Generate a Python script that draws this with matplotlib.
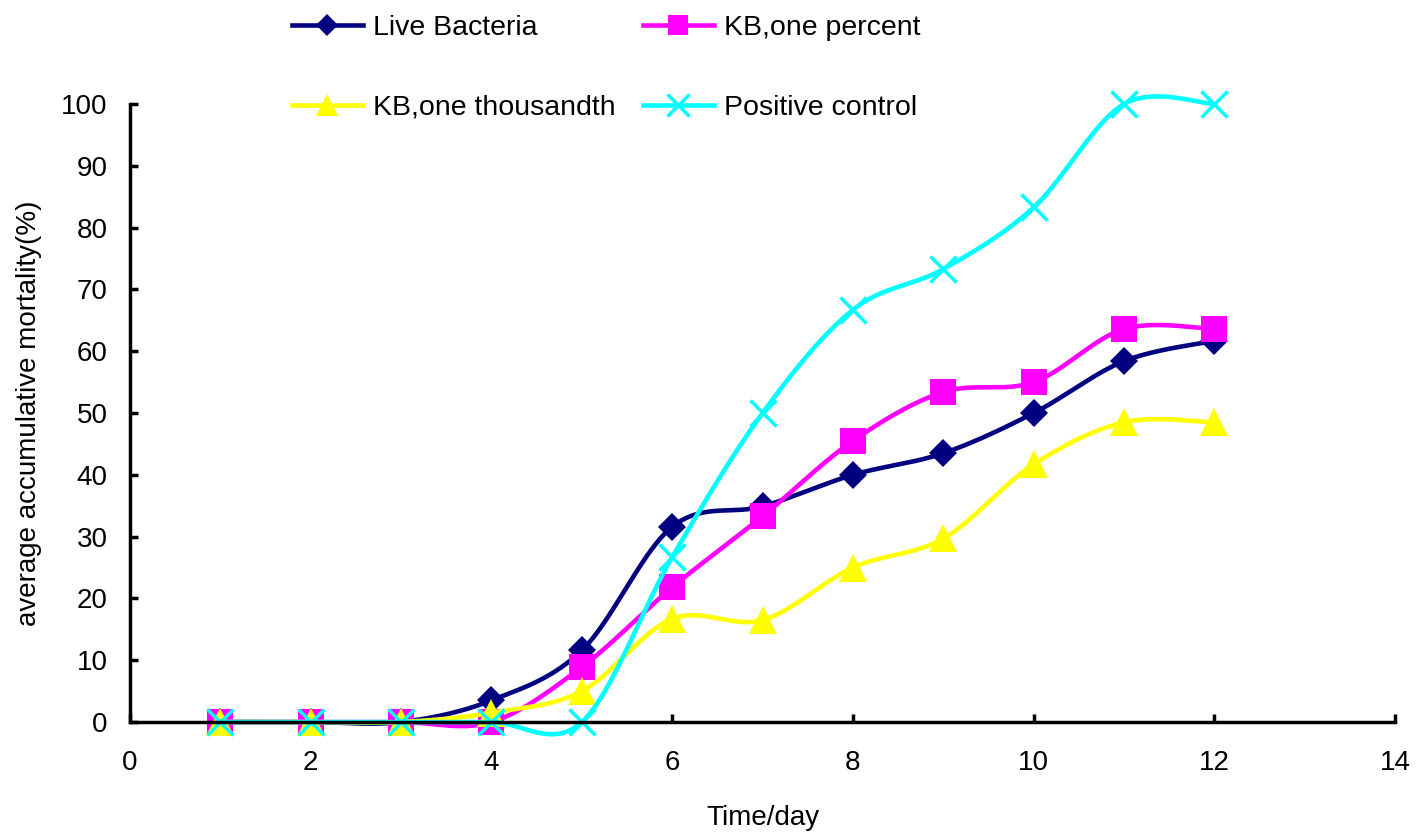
import numpy as np
import matplotlib
matplotlib.use("Agg")
import matplotlib.pyplot as plt
from matplotlib.lines import Line2D

plt.rcParams['font.family'] = ['Liberation Sans', 'DejaVu Sans']

days = [1, 2, 3, 4, 5, 6, 7, 8, 9, 10, 11, 12]
live_bacteria = [0, 0, 0, 3.5, 11.6, 31.6, 34.9, 40.0, 43.5, 50.0, 58.4, 61.7]
kb_one_percent = [0, 0, 0, 0, 8.9, 21.8, 33.3, 45.5, 53.4, 55.0, 63.6, 63.6]
kb_one_thousandth = [0, 0, 0, 1.5, 5.0, 16.7, 16.5, 25.0, 29.7, 41.7, 48.5, 48.5]
positive_control = [0, 0, 0, 0, 0, 26.7, 50.0, 66.7, 73.3, 83.3, 100, 100]

series_names = ["Live Bacteria", "KB,one percent", "KB,one thousandth", "Positive control"]


def excel_smooth(x, y, n=40):
    """Bezier smoothing like the spreadsheet 'smoothed line' option."""
    p = np.column_stack([x, y]).astype(float)
    pts = np.vstack([p[0], p, p[-1]])
    out = []
    t = np.linspace(0, 1, n)[:, None]
    for i in range(1, len(pts) - 2):
        p0, p1 = pts[i], pts[i + 1]
        c1 = p0 + (pts[i + 1] - pts[i - 1]) / 6.0
        c2 = p1 - (pts[i + 2] - pts[i]) / 6.0
        seg = ((1 - t) ** 3) * p0 + 3 * ((1 - t) ** 2) * t * c1 + 3 * (1 - t) * t ** 2 * c2 + t ** 3 * p1
        out.append(seg if i == 1 else seg[1:])
    seg = np.vstack(out)
    return seg[:, 0], seg[:, 1]


fig = plt.figure(figsize=(14.16, 8.35), dpi=100)
ax = fig.add_axes([0.0918, 0.1353, 0.8935, 0.7401])

styles = [
    dict(color="#000080", marker="D", ms=14.5, mew=0),
    dict(color="#FF00FF", marker="s", ms=18.5, mew=0),
    dict(color="#FFFF00", marker="^", ms=20, mew=0),
    dict(color="#00FFFF", marker="x", ms=19, mew=2.5),
]
data = [live_bacteria, kb_one_percent, kb_one_thousandth, positive_control]

handles = []
for name, vals, st in zip(series_names, data, styles):
    sx, sy = excel_smooth(days, vals)
    ax.plot(sx, sy, color=st["color"], lw=3.3, clip_on=False, solid_capstyle="round")
    ax.plot(days, vals, ls="none", marker=st["marker"], ms=st["ms"], color=st["color"],
            mec=st["color"], mew=st["mew"], clip_on=False)
    handles.append(Line2D([], [], color=st["color"], lw=3.3, marker=st["marker"],
                          ms=st["ms"] * 0.8, mec=st["color"], mew=st["mew"], label=name))

ax.set_xlim(0, 14)
ax.set_ylim(0, 100)
ax.set_xticks(range(0, 15, 2))
ax.set_yticks(range(0, 101, 10))
for s in ["top", "right"]:
    ax.spines[s].set_visible(False)
for s in ["left", "bottom"]:
    ax.spines[s].set_linewidth(2.5)
ax.tick_params(direction="in", length=6, width=2.5, labelsize=20)
ax.tick_params(axis="x", pad=20)
ax.tick_params(axis="y", pad=16)
ax.set_xlabel("Time/day", fontsize=20, labelpad=21)
ax.set_ylabel("average accumulative mortality(%)", fontsize=20, labelpad=14)

# legend fills column-wise, so order handles to read row by row
order = [0, 2, 1, 3]
fig.legend(handles=[handles[i] for i in order], ncol=2, loc="upper left",
           bbox_to_anchor=(0.188, 1.013), frameon=False, fontsize=20.5,
           labelspacing=1.9, columnspacing=0.95, handlelength=2.5, handletextpad=0.35)

fig.savefig("out.png", dpi=100)
